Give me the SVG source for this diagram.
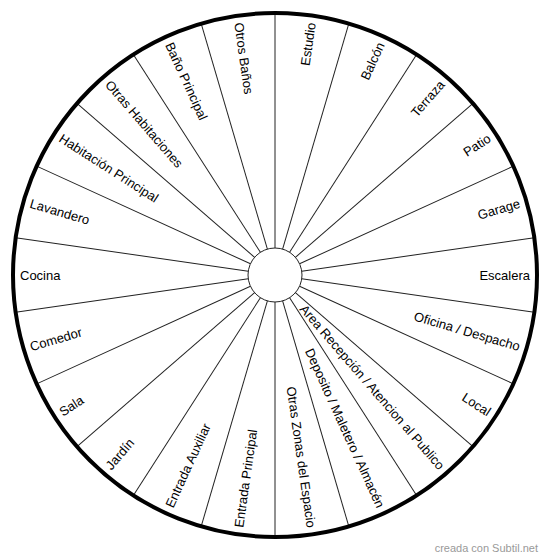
<svg xmlns="http://www.w3.org/2000/svg" width="550" height="559" viewBox="0 0 550 559">
<style>
.lbl{font-family:"Liberation Sans",Arial,sans-serif;font-size:13px;fill:#000;dominant-baseline:central}
.r{text-anchor:end}
.l{text-anchor:start}
.div line{stroke:#222;stroke-width:1}
</style>
<rect width="550" height="559" fill="#fff"/>
<g id="dividers" class="div" transform="translate(275,275)">
<line x1="27" y1="0" x2="262" y2="0" transform="rotate(-90)"/>
<line x1="27" y1="0" x2="262" y2="0" transform="rotate(-73.636)"/>
<line x1="27" y1="0" x2="262" y2="0" transform="rotate(-57.273)"/>
<line x1="27" y1="0" x2="262" y2="0" transform="rotate(-40.909)"/>
<line x1="27" y1="0" x2="262" y2="0" transform="rotate(-24.545)"/>
<line x1="27" y1="0" x2="262" y2="0" transform="rotate(-8.182)"/>
<line x1="27" y1="0" x2="262" y2="0" transform="rotate(8.182)"/>
<line x1="27" y1="0" x2="262" y2="0" transform="rotate(24.545)"/>
<line x1="27" y1="0" x2="262" y2="0" transform="rotate(40.909)"/>
<line x1="27" y1="0" x2="262" y2="0" transform="rotate(57.273)"/>
<line x1="27" y1="0" x2="262" y2="0" transform="rotate(73.636)"/>
<line x1="27" y1="0" x2="262" y2="0" transform="rotate(90)"/>
<line x1="27" y1="0" x2="262" y2="0" transform="rotate(106.364)"/>
<line x1="27" y1="0" x2="262" y2="0" transform="rotate(122.727)"/>
<line x1="27" y1="0" x2="262" y2="0" transform="rotate(139.091)"/>
<line x1="27" y1="0" x2="262" y2="0" transform="rotate(155.455)"/>
<line x1="27" y1="0" x2="262" y2="0" transform="rotate(171.818)"/>
<line x1="27" y1="0" x2="262" y2="0" transform="rotate(188.182)"/>
<line x1="27" y1="0" x2="262" y2="0" transform="rotate(204.545)"/>
<line x1="27" y1="0" x2="262" y2="0" transform="rotate(220.909)"/>
<line x1="27" y1="0" x2="262" y2="0" transform="rotate(237.273)"/>
<line x1="27" y1="0" x2="262" y2="0" transform="rotate(253.636)"/>
</g>
<circle id="outer" cx="275" cy="275" r="262" fill="none" stroke="#000" stroke-width="4"/>
<circle id="hub" cx="275" cy="275" r="27" fill="#fff" stroke="#222" stroke-width="1"/>
<g transform="translate(275,275)">
<g id="estudio"><text class="lbl r" x="255" transform="rotate(-81.818)">Estudio</text></g>
<g id="balcon"><text class="lbl r" x="255" transform="rotate(-65.455)">Balcón</text></g>
<g id="terraza"><text class="lbl r" x="255" transform="rotate(-49.091)">Terraza</text></g>
<g id="patio"><text class="lbl r" x="255" transform="rotate(-32.727)">Patio</text></g>
<g id="garage"><text class="lbl r" x="255" transform="rotate(-16.364)">Garage</text></g>
<g id="escalera"><text class="lbl r" x="255" transform="rotate(0)">Escalera</text></g>
<g id="oficina"><text class="lbl r" x="255" transform="rotate(16.364)">Oficina / Despacho</text></g>
<g id="local"><text class="lbl r" x="255" transform="rotate(32.727)">Local</text></g>
<g id="recepcion"><text class="lbl r" x="255" transform="rotate(49.091)">Area Recepción / Atencion al Publico</text></g>
<g id="deposito"><text class="lbl r" x="255" transform="rotate(65.455)">Deposito / Maletero / Almacén</text></g>
<g id="otras-zonas"><text class="lbl r" x="255" transform="rotate(81.818)">Otras Zonas del Espacio</text></g>
<g id="entrada-principal"><text class="lbl l" x="-255" transform="rotate(-81.818)">Entrada Principal</text></g>
<g id="entrada-auxiliar"><text class="lbl l" x="-255" transform="rotate(-65.455)">Entrada Auxiliar</text></g>
<g id="jardin"><text class="lbl l" x="-255" transform="rotate(-49.091)">Jardín</text></g>
<g id="sala"><text class="lbl l" x="-255" transform="rotate(-32.727)">Sala</text></g>
<g id="comedor"><text class="lbl l" x="-255" transform="rotate(-16.364)">Comedor</text></g>
<g id="cocina"><text class="lbl l" x="-255" transform="rotate(0)">Cocina</text></g>
<g id="lavandero"><text class="lbl l" x="-255" transform="rotate(16.364)">Lavandero</text></g>
<g id="habitacion-principal"><text class="lbl l" x="-255" transform="rotate(32.727)">Habitación Principal</text></g>
<g id="otras-habitaciones"><text class="lbl l" x="-255" transform="rotate(49.091)">Otras Habitaciones</text></g>
<g id="bano-principal"><text class="lbl l" x="-255" transform="rotate(65.455)">Baño Principal</text></g>
<g id="otros-banos"><text class="lbl l" x="-255" transform="rotate(81.818)">Otros Baños</text></g>
</g>
<text x="538" y="552" font-family="'Liberation Sans',Arial,sans-serif" font-size="11" fill="#999" text-anchor="end">creada con Subtil.net</text>
</svg>
